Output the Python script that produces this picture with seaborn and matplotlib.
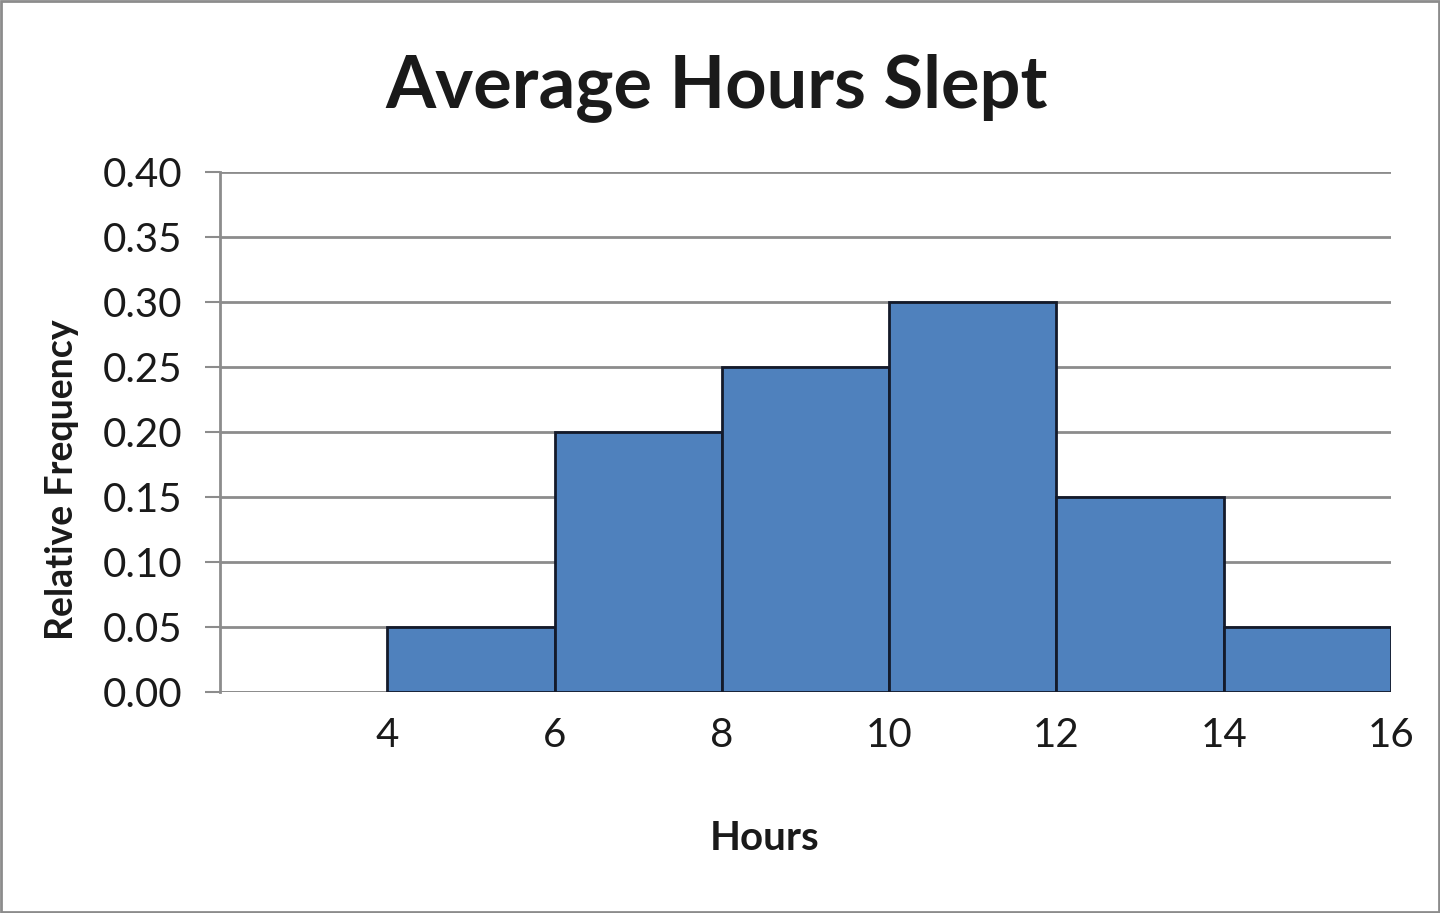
import matplotlib
matplotlib.use("Agg")
import matplotlib.pyplot as plt
import seaborn as sns
import numpy as np
from matplotlib.patches import Rectangle

# Data
bin_edges = [4, 6, 8, 10, 12, 14, 16]
rel_freq = [0.05, 0.20, 0.25, 0.30, 0.15, 0.05]
bin_mids = [(a + b) / 2 for a, b in zip(bin_edges[:-1], bin_edges[1:])]
y_ticks = [0.00, 0.05, 0.10, 0.15, 0.20, 0.25, 0.30, 0.35, 0.40]

sns.set_theme(style="white")
plt.rcParams['font.family'] = ['Lato', 'DejaVu Sans']

fig = plt.figure(figsize=(14.4, 9.13), dpi=100)
ax = fig.add_axes([220 / 1440, 1 - 692 / 913, (1391 - 220) / 1440, (692 - 172) / 913])

sns.histplot(x=bin_mids, weights=rel_freq, bins=bin_edges, ax=ax,
             color='#4F81BD', alpha=1.0, edgecolor='#141a2a', linewidth=2, zorder=3)

ax.set_xlim(2, 16)
ax.set_ylim(0, 0.40)
ax.set_yticks(y_ticks)
ax.set_yticklabels([f"{v:.2f}" for v in y_ticks])
ax.set_xticks(bin_edges)
ax.set_xticklabels([str(v) for v in bin_edges])

ax.yaxis.grid(True, color='#8c8c8c', linewidth=2, zorder=0)
ax.xaxis.grid(False)
for s in ['top', 'right', 'bottom']:
    ax.spines[s].set_visible(False)
ax.spines['left'].set_color('#8c8c8c')
ax.spines['left'].set_linewidth(2)
ax.axhline(0, color='#8c8c8c', linewidth=2, zorder=1)

ax.tick_params(axis='y', left=True, length=11, width=1.5, color='#8c8c8c',
               labelsize=29, labelcolor='#1a1a1a', pad=16)
ax.tick_params(axis='x', bottom=False, labelsize=29, labelcolor='#1a1a1a', pad=12)

ax.set_ylabel("Relative Frequency", fontsize=27, fontweight='bold', color='#1a1a1a')
ax.yaxis.set_label_coords(-(220 - 62) / (1391 - 220), 0.5 + (692 - 480 - 260) / 520)
ax.set_xlabel("Hours", fontsize=29, fontweight='bold', color='#1a1a1a')
ax.xaxis.set_label_coords((765 - 220) / (1391 - 220), -(838 - 692) / (692 - 172))
ax.xaxis.label.set_va('center')
ax.yaxis.label.set_va('center')

fig.text(717 / 1440, 1 - 88 / 913, "Average Hours Slept", fontsize=52, fontweight='bold',
         color='#1a1a1a', ha='center', va='center')

fig.patches.append(Rectangle((0.001, 0.001), 0.998, 0.998, transform=fig.transFigure,
                             fill=False, edgecolor='#8c8c8c', linewidth=2))

fig.savefig("out.png", dpi=100)
